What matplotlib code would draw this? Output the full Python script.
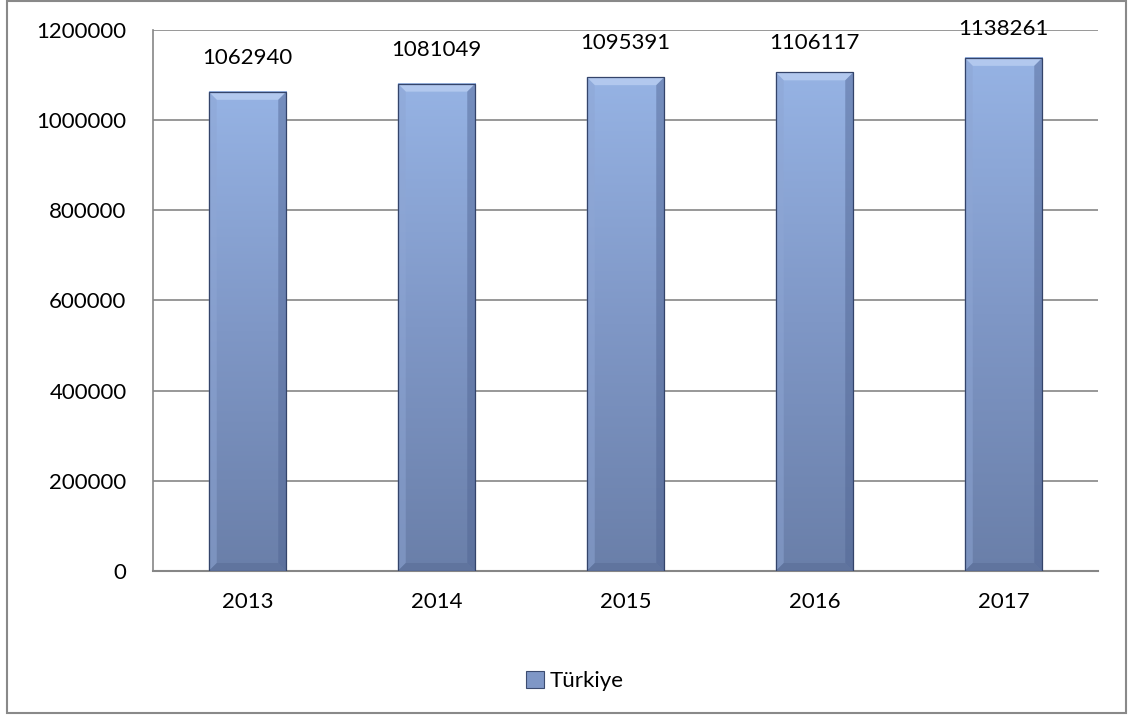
import matplotlib
matplotlib.use("Agg")
import matplotlib.pyplot as plt
import numpy as np
from matplotlib.patches import Rectangle, Polygon, Patch
from matplotlib.colors import LinearSegmentedColormap

years = ["2013", "2014", "2015", "2016", "2017"]
values = [1062940, 1081049, 1095391, 1106117, 1138261]
series_name = "Türkiye"
label_offsets_px = [34, 34, 34, 29, 29]

plt.rcParams['font.family'] = ['Lato', 'DejaVu Sans']

W, H, DPI = 1130, 715, 100
fig = plt.figure(figsize=(W / DPI, H / DPI), dpi=DPI)
ax = fig.add_axes([153 / W, 1 - 571 / H, (1098 - 153) / W, (571 - 30) / H])

ymax = 1200000
ax.set_xlim(-0.5, len(years) - 0.5)
ax.set_ylim(0, ymax)

bw = 0.41
cmap = LinearSegmentedColormap.from_list("barg", ["#6A7FA9", "#7F97C6", "#96B3E4"])
grad = np.linspace(0, 1, 256).reshape(-1, 1)

px_y = ymax / 541.0
px_x = 1.0 / 189.0
bev_y = 8 * px_y
bev_x = 8 * px_x

x = np.arange(len(years))
bars = ax.bar(x, values, width=bw, color="none", zorder=3)
for i, (b, v) in enumerate(zip(bars, values)):
    x0 = b.get_x()
    x1 = x0 + b.get_width()
    ax.imshow(grad, extent=[x0, x1, 0, v], origin="lower", cmap=cmap,
              aspect="auto", zorder=3, interpolation="bilinear")
    # bevel: top light, sides darker
    ax.add_patch(Polygon([[x0, v], [x1, v], [x1 - bev_x, v - bev_y], [x0 + bev_x, v - bev_y]],
                         closed=True, facecolor="#B8CDF0", edgecolor="none", alpha=0.85, zorder=4))
    ax.add_patch(Polygon([[x0, v], [x0 + bev_x, v - bev_y], [x0 + bev_x, bev_y], [x0, 0]],
                         closed=True, facecolor="#8EA6D4", edgecolor="none", alpha=0.5, zorder=4))
    ax.add_patch(Polygon([[x1, v], [x1 - bev_x, v - bev_y], [x1 - bev_x, bev_y], [x1, 0]],
                         closed=True, facecolor="#4E6290", edgecolor="none", alpha=0.45, zorder=4))
    ax.add_patch(Polygon([[x0, 0], [x1, 0], [x1 - bev_x, bev_y], [x0 + bev_x, bev_y]],
                         closed=True, facecolor="#5A6D98", edgecolor="none", alpha=0.6, zorder=4))
    ax.add_patch(Rectangle((x0, 0), x1 - x0, v, facecolor="none", edgecolor="#34446A",
                           linewidth=0.9, zorder=5))
    ax.annotate(f"{v}", xy=(b.get_x() + b.get_width() / 2, v),
                xytext=(0, label_offsets_px[i] * 72 / DPI), textcoords="offset points",
                ha="center", va="center", fontsize=16, color="#000000", zorder=6)

ax.set_xticks(x)
ax.set_xticklabels(years, fontsize=16)
ax.set_yticks(np.arange(0, ymax + 1, 200000))
ax.set_yticklabels([str(t) for t in range(0, ymax + 1, 200000)], fontsize=16)
ax.tick_params(axis="both", length=0)
ax.tick_params(axis="x", pad=15)
ax.tick_params(axis="y", pad=19)

ax.yaxis.grid(True, color="#868686", linewidth=1.2, zorder=1)
ax.set_axisbelow(True)
for s in ["top", "right"]:
    ax.spines[s].set_visible(False)
ax.spines["left"].set_color("#868686")
ax.spines["left"].set_linewidth(1.2)
ax.spines["bottom"].set_color("#868686")
ax.spines["bottom"].set_linewidth(1.5)

handle = Patch(facecolor="#7F97C6", edgecolor="#3C4C70", linewidth=0.8)
fig.legend([handle], [series_name], loc="center", bbox_to_anchor=(575 / W, 1 - 681 / H),
           frameon=False, fontsize=16, handlelength=0.8, handleheight=0.8,
           handletextpad=0.25)

fig.patches.append(Rectangle((7 / W, 1 - 713 / H), (1126 - 7) / W, (713 - 1) / H,
                             transform=fig.transFigure, facecolor="none",
                             edgecolor="#898989", linewidth=1.5))

fig.savefig("out.png", dpi=DPI)
